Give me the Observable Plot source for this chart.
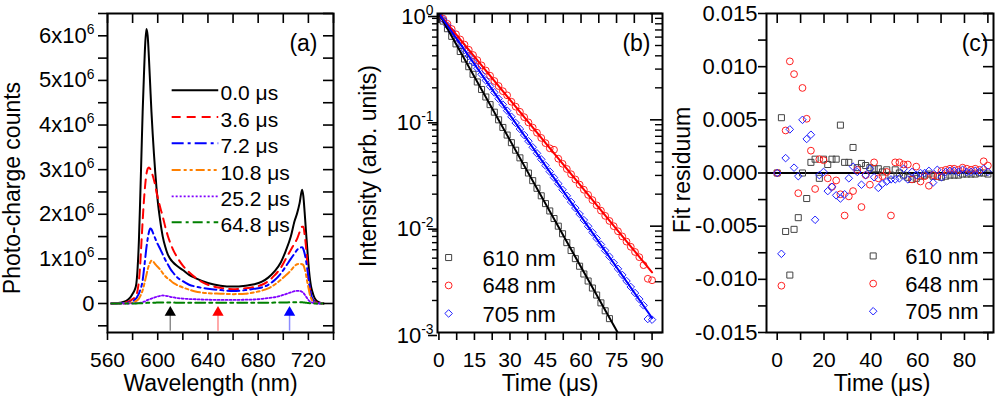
<!DOCTYPE html>
<html><head><meta charset="utf-8">
<script src="https://cdn.jsdelivr.net/npm/d3@7"></script>
<script src="https://cdn.jsdelivr.net/npm/@observablehq/plot@0.6"></script>
<style>
html,body{margin:0;padding:0;background:#fff;}
#wrap{position:relative;width:1000px;height:398px;overflow:hidden;}
#wrap svg{position:absolute;top:0;}
</style></head><body><div id="wrap"></div>
<script>
// ---------- Panel (a): spectra (counts in units of 10^6) ----------
const wavelength = [563,570,575,578,580,582,583,584,585,586,587,588,589,590,591,592,593,594,595,596,597,598,599,600,602,604,606,608,610,612,615,620,625,630,640,650,660,670,677,683,688,693,698,702,706,709,711,713,715,716,717,718,719,720,721,722,723,725,727,732];
const spec0_0 = [0,0.02,0.06,0.13,0.22, 0.33,0.45,0.8,1.4,2.3, 3.3,4.3,5.1,5.8,6.15, 6.0,5.5,4.9,4.3,3.8, 3.35,2.95,2.6,2.3,1.85, 1.5,1.27,1.1,1.0,0.93, 0.85,0.75,0.64,0.57,0.46, 0.40,0.38,0.40,0.43,0.49, 0.58,0.72,0.92,1.18,1.5, 1.85,2.02,2.25,2.55,2.4, 2.05,1.65,1.27,0.9,0.6, 0.4,0.28,0.12,0.05,0];
const spec3_6 = [0,0.01,0.03,0.06,0.1, 0.14,0.18,0.3,0.5,0.85, 1.35,1.85,2.3,2.65,2.9, 3.02,3.05,3.02,2.95,2.87, 2.77,2.65,2.5,2.38,2.15, 1.95,1.72,1.52,1.36,1.22, 1.06,0.85,0.7,0.58,0.42, 0.35,0.32,0.34,0.37,0.42, 0.5,0.63,0.8,1.0,1.2, 1.35,1.45,1.6,1.72,1.72, 1.55,1.3,0.95,0.55,0.35, 0.22,0.13,0.05,0.02,0];
const spec7_2 = [0,0.005,0.015,0.03,0.05, 0.09,0.12,0.17,0.22,0.3, 0.38,0.52,0.75,1.0,1.25, 1.45,1.6,1.68,1.66,1.6, 1.53,1.46,1.39,1.33,1.22, 1.1,0.98,0.88,0.78,0.7, 0.6,0.5,0.42,0.38,0.33, 0.3,0.28,0.3,0.33,0.36, 0.42,0.52,0.67,0.83,1.0, 1.12,1.2,1.25,1.26,1.22, 1.12,0.98,0.8,0.6,0.38, 0.22,0.12,0.04,0.01,0];
const spec10_8 = [0,0,0.005,0.015,0.025, 0.04,0.06,0.08,0.11,0.16, 0.22,0.3,0.4,0.52,0.64, 0.76,0.86,0.92,0.96,0.95, 0.92,0.88,0.85,0.82,0.76, 0.68,0.61,0.56,0.52,0.47, 0.42,0.36,0.31,0.27,0.23, 0.22,0.21,0.22,0.25,0.29, 0.34,0.42,0.53,0.63,0.74, 0.84,0.88,0.89,0.88,0.86, 0.78,0.66,0.5,0.36,0.22, 0.13,0.07,0.02,0,0];
const spec25_2 = [0,0,0,0,0.003, 0.005,0.007,0.01,0.012,0.016, 0.02,0.03,0.04,0.05,0.065, 0.08,0.09,0.1,0.11,0.12, 0.13,0.14,0.15,0.16,0.17, 0.18,0.175,0.165,0.15,0.14, 0.125,0.11,0.1,0.095,0.085, 0.08,0.08,0.085,0.09,0.105, 0.12,0.14,0.175,0.21,0.25, 0.275,0.285,0.28,0.26,0.24, 0.2,0.16,0.12,0.08,0.05, 0.03,0.02,0.01,0,0];
const spec64_8 = [0,0,0,0,0, 0,0.002,0.003,0.004,0.005, 0.006,0.008,0.01,0.012,0.014, 0.015,0.016,0.017,0.018,0.018, 0.019,0.019,0.02,0.02,0.02, 0.02,0.02,0.02,0.02,0.02, 0.019,0.018,0.017,0.016,0.015, 0.015,0.015,0.016,0.017,0.018, 0.019,0.02,0.022,0.024,0.026, 0.027,0.028,0.027,0.026,0.025, 0.022,0.018,0.014,0.01,0.007, 0.005,0.003,0.001,0,0];
const delayLabels = ["0.0 \u03bcs","3.6 \u03bcs","7.2 \u03bcs","10.8 \u03bcs","25.2 \u03bcs","64.8 \u03bcs"];
const specColors = ["#000000","#ff0000","#0000ff","#ff8000","#8000ff","#008000"];
const specDash = [null,"9,6","12,4,3,4","9,3,3,3,3,3","2,2","10,4,3,4"];
const legendRowsA = [4.78,4.18,3.59,2.99,2.40,1.82];
const arrowWl = [610,648,705];
const arrowColors = ["#000000","#ff0000","#0000ff"];
const aXTicks = [560,580,600,620,640,660,680,700,720,740];
const aXLabelTicks = [560,600,640,680,720];
const aYTicks = [-0.5,0,0.5,1,1.5,2,2.5,3,3.5,4,4.5,5,5.5,6,6.5];
const aYLabelTicks = [0,1,2,3,4,5,6];
const aYLabelText = ["0","1x10^6","2x10^6","3x10^6","4x10^6","5x10^6","6x10^6"];

// ---------- Panel (b): decays ----------
const times = [0,1.8,3.6,5.4,7.2,9,10.8,12.6,14.4,16.2,18,19.8,21.6,23.4,25.2,27,28.8,30.6,32.4,34.2,36,37.8,39.6,41.4,43.2,45,46.8,48.6,50.4,52.2,54,55.8,57.6,59.4,61.2,63,64.8,66.6,68.4,70.2,72,73.8,75.6,77.4,79.2,81,82.8,84.6,86.4,88.2,90];
const int610 = [1,0.848,0.719,0.610,0.518,0.439,0.373,0.316,0.268,0.227, 0.193,0.164,0.139,0.118,0.100,0.0848,0.0719,0.0610,0.0518,0.0439, 0.0372,0.0316,0.0268,0.0227,0.0193,0.0163,0.0139,0.0118,0.0100,0.00848, 0.00700,0.00590,0.00495,0.00420,0.00355,0.00305,0.00262,0.00225,0.00190,0.00160, 0.00135];
const int648 = [1,0.894,0.799,0.714,0.638,0.570,0.510,0.456,0.407,0.364, 0.325,0.291,0.260,0.232,0.208,0.186,0.170,0.148,0.133,0.119, 0.106,0.0946,0.0846,0.0756,0.0676,0.0604,0.0540,0.0523,0.0431,0.0386, 0.0345,0.0308,0.0275,0.0246,0.0220,0.0197,0.0176,0.0157,0.0140,0.0125, 0.0112,0.0100,0.00896,0.00801,0.00716,0.00640,0.00572,0.00511,0.00430,0.00320,0.00310];
const int705 = [1,0.877,0.768,0.674,0.590,0.518,0.454,0.398,0.349,0.306, 0.268,0.235,0.206,0.181,0.158,0.139,0.122,0.107,0.0935,0.0820, 0.0719,0.0630,0.0552,0.0484,0.0425,0.0372,0.0326,0.0286,0.0251,0.0220, 0.0193,0.0169,0.0148,0.0130,0.0114,0.00998,0.00875,0.00767,0.00672,0.00589, 0.00517,0.00453,0.00397,0.00348,0.00305,0.00268,0.00235,0.00206,0.00180,0.00134,0.00132];
const fitTimes = [0,90];
const fit610 = [1,0.000265];
const fit648 = [1,0.00368];
const fit705 = [1,0.00137];
const seriesLabels = ["610 nm","648 nm","705 nm"];
const seriesColors = ["#444444","#ff2020","#2020ff"];
const lineColors = ["#000000","#ff0000","#0000ff"];
const seriesSymbols = ["square","circle","diamond2"];
const bXTicks = [0,7.5,15,22.5,30,37.5,45,52.5,60,67.5,75,82.5,90];
const bXLabelTicks = [0,15,30,45,60,75,90];
const bYMajor = [0.001,0.01,0.1,1];
const bYMajorText = ["10^-3","10^-2","10^-1","10^0"];
const bYMinor = [0.002,0.003,0.004,0.005,0.006,0.007,0.008,0.009,0.02,0.03,0.04,0.05,0.06,0.07,0.08,0.09,0.2,0.3,0.4,0.5,0.6,0.7,0.8,0.9];
const legendRowsB = [0.00507,0.00277,0.00151];

// ---------- Panel (c): residuals ----------
const res610 = [0,0.0052,-0.0055,-0.0096,-0.0053,-0.0042,0.0000,-0.0024,0.0010,0.0013, -0.0005,0.0013,0.0008,0.0013,0.0013,0.0045,0.0010,0.0010,0.0024,0.0005, 0.0009,0.0007,0.0005,0.0004,0.0004,0.0001,0.0003,-0.0002,0.0003,0.0000, -0.0002,-0.0004,-0.0006,-0.0005,-0.0003,-0.0002,-0.0001,-0.0003,-0.0003,-0.0004, -0.0003,-0.0002,-0.0002,-0.0002,-0.0001,-0.0001,-0.0001,-0.0001,0.0000,0.0000,-0.0001];
const res648 = [0,-0.0106,0.0040,0.0105,0.0093,-0.0019,0.0080,0.0051,0.0021,-0.0015, 0.0013,0.0012,-0.0005,-0.0013,-0.0007,-0.0020,-0.0040,-0.0022,-0.0017,0.0003, -0.0032,-0.0002,-0.0011,0.0010,-0.0005,-0.0003,0.0001,-0.0040,0.0010,0.0010, 0.0008,0.0008,-0.0006,0.0006,-0.0008,-0.0003,-0.0012,-0.0002,-0.0003,0.0002, 0.0003,0.0004,0.0004,0.0003,0.0005,0.0004,0.0003,0.0004,0.0003,0.0011,0.0007];
const res705 = [0,-0.0076,0.0014,0.0041,0.0005,-0.0003,0.0050,0.0032,0.0036,-0.0044, -0.0002,0.0001,-0.0017,-0.0013,-0.0021,-0.0024,-0.0020,-0.0005,0.0006,0.0001, -0.0011,-0.0002,0.0004,-0.0004,-0.0014,-0.0010,-0.0008,-0.0006,-0.0006,-0.0005, 0.0004,-0.0006,0.0001,-0.0002,0.0000,0.0000,0.0002,-0.0009,0.0003,-0.0004, 0.0001,0.0002,0.0002,0.0001,0.0003,0.0001,0.0001,0.0002,0.0001,0.0004,0.0001];
const cXTicks = [0,10,20,30,40,50,60,70,80,90];
const cXLabelTicks = [0,20,40,60,80];
const cYTicks = [-0.015,-0.0125,-0.01,-0.0075,-0.005,-0.0025,0,0.0025,0.005,0.0075,0.01,0.0125,0.015];
const cYLabelTicks = [-0.015,-0.01,-0.005,0,0.005,0.01,0.015];
const legendRowsC = [-0.0078,-0.0104,-0.0130];

// ---------- helpers ----------
const FONT = "'Liberation Sans', Arial, sans-serif";
const H = 398, MT = 13, MB = 66, PH = H - MT - MB;
const XT = 21, YT = 22, TT = 23;
const has = (arr, d) => arr.some(v => Math.abs(v - d) < 1e-9);
function baseStyle() { return {fontFamily: FONT, fontSize: "20px", color: "black", background: "transparent"}; }
function supify(svg) {
  svg.querySelectorAll("text").forEach(t => {
    if (t.children.length === 0 && t.textContent.includes("^")) {
      const [b, s] = t.textContent.split("^");
      const fs = parseFloat(getComputedStyle(t).fontSize) || 20;
      t.textContent = b;
      const ts = document.createElementNS("http://www.w3.org/2000/svg", "tspan");
      ts.setAttribute("dy", String(-0.4 * fs));
      ts.setAttribute("font-size", String(0.63 * fs));
      ts.textContent = s;
      t.appendChild(ts);
    }
  });
}
function place(svg, left) { svg.style.left = left + "px"; document.getElementById("wrap").appendChild(svg); supify(svg); }
function yTitle(s, dx, dy) { return Plot.text([s], {frameAnchor: "left", rotate: -90, dx, dy, textAnchor: "middle", lineAnchor: "middle", fontSize: TT, text: d => d}); }
function xTitle(s, dx) { return Plot.text([s], {frameAnchor: "bottom", dx, dy: 51, textAnchor: "middle", lineAnchor: "middle", fontSize: TT, text: d => d}); }
function letter(s, dx) { return Plot.text([s], {frameAnchor: "top-right", dx, dy: 30, textAnchor: "end", lineAnchor: "middle", fontSize: TT, text: d => d}); }

// ---------- Panel (a) ----------
{
  const W = 335, ML = 107, MR = 2, PW = W - ML - MR;
  const series = [spec0_0, spec3_6, spec7_2, spec10_8, spec25_2, spec64_8];
  const marks = [];
  series.forEach((s, k) => {
    const rows = wavelength.map((w, i) => ({w, v: s[i]}));
    marks.push(Plot.line(rows, {x: "w", y: "v", stroke: specColors[k], strokeWidth: k === 4 ? 1.8 : 2, strokeDasharray: specDash[k], curve: "monotone-x"}));
  });
  arrowWl.forEach((w, k) => {
    marks.push(Plot.ruleX([w], {x: d => d, y1: -0.62, y2: -0.25, stroke: arrowColors[k], strokeOpacity: 0.45, strokeWidth: 1.5}));
    marks.push(Plot.dot([w], {x: d => d, y: -0.2, symbol: "triangle", r: 4.2, fill: arrowColors[k], stroke: "none"}));
  });
  delayLabels.forEach((lab, k) => {
    marks.push(Plot.ruleY([legendRowsA[k]], {y: d => d, x1: 611.5, x2: 648.6, stroke: specColors[k], strokeWidth: k === 4 ? 1.8 : 2, strokeDasharray: specDash[k]}));
    marks.push(Plot.text([lab], {x: 650, y: legendRowsA[k], text: d => d, textAnchor: "start", dy: 3, fontSize: 21}));
  });
  marks.push(
    Plot.axisX(aXTicks, {anchor: "bottom", tickSize: 8, tickPadding: 12, strokeWidth: 1.6, label: null, fontSize: XT, tickFormat: d => has(aXLabelTicks, d) ? String(d) : ""}),
    Plot.axisY(aYTicks, {anchor: "left", tickSize: 9, tickPadding: 4, strokeWidth: 1.6, label: null, fontSize: YT, tickFormat: d => { const i = aYLabelTicks.findIndex(v => Math.abs(v - d) < 1e-9); return i >= 0 ? aYLabelText[i] : ""; }}),
    Plot.tickX(aXTicks, {x: d => d, insetBottom: PH - 10, strokeWidth: 1.6}),
    Plot.tickY(aYTicks, {y: d => d, insetLeft: PW - 10, strokeWidth: 1.6}),
    Plot.frame({strokeWidth: 2}),
    letter("(a)", -16),
    yTitle("Photo-charge counts", -95, 15),
    xTitle("Wavelength (nm)", -10)
  );
  const svg = Plot.plot({width: W, height: H, marginLeft: ML, marginRight: MR, marginTop: MT, marginBottom: MB,
    style: baseStyle(), x: {domain: [560, 740]}, y: {domain: [-0.65, 6.5]}, marks});
  place(svg, 0);
}

// ---------- Panel (b) ----------
{
  const W = 330, ML = 102, MR = 3, PW = W - ML - MR;
  const ints = [int610, int648, int705];
  const fits = [fit610, fit648, fit705];
  const marks = [];
  ints.forEach((s, k) => {
    const rows = s.map((v, i) => ({t: times[i], v}));
    marks.push(Plot.dot(rows, {x: "t", y: "v", symbol: seriesSymbols[k], r: 3.4, stroke: seriesColors[k], strokeWidth: 1, fill: "none", clip: true}));
  });
  fits.forEach((s, k) => {
    const rows = s.map((v, i) => ({t: fitTimes[i], v}));
    marks.push(Plot.line(rows, {x: "t", y: "v", stroke: lineColors[k], strokeWidth: 2, clip: true}));
  });
  seriesLabels.forEach((lab, k) => {
    marks.push(Plot.dot([0], {x: 4.1, y: legendRowsB[k], symbol: seriesSymbols[k], r: 3.4, stroke: seriesColors[k], strokeWidth: 1, fill: "none"}));
    marks.push(Plot.text([lab], {x: 18.4, y: legendRowsB[k], text: d => d, textAnchor: "start", dy: 1, fontSize: 22}));
  });
  marks.push(
    Plot.axisX(bXTicks, {anchor: "bottom", tickSize: 8, tickPadding: 12, strokeWidth: 1.6, label: null, fontSize: XT, tickFormat: d => has(bXLabelTicks, d) ? String(d) : ""}),
    Plot.axisY(bYMinor, {anchor: "left", tickSize: 5, strokeWidth: 1.4, label: null, tickFormat: () => ""}),
    Plot.axisY(bYMajor, {anchor: "left", tickSize: 9, tickPadding: -5, strokeWidth: 1.6, label: null, fontSize: YT, dy: 3, tickFormat: d => { const i = bYMajor.findIndex(v => Math.abs(v - d) < 1e-12); return i >= 0 ? bYMajorText[i] : ""; }}),
    Plot.tickX(bXTicks, {x: d => d, insetBottom: PH - 10, strokeWidth: 1.6}),
    Plot.tickY(bYMajor, {y: d => d, insetLeft: PW - 12, strokeWidth: 1.6}),
    Plot.tickY(bYMinor, {y: d => d, insetLeft: PW - 7, strokeWidth: 1.4}),
    Plot.frame({strokeWidth: 2}),
    letter("(b)", -12),
    yTitle("Intensity (arb. units)", -69, -7),
    xTitle("Time (\u03bcs)", 0)
  );
  const svg = Plot.plot({width: W, height: H, marginLeft: ML, marginRight: MR, marginTop: MT, marginBottom: MB,
    style: baseStyle(), x: {domain: [-0.6, 94.4]}, y: {type: "log", domain: [0.001, 1]}, marks});
  place(svg, 335);
}

// ---------- Panel (c) ----------
{
  const W = 335, ML = 101, MR = 7, PW = W - ML - MR;
  const res = [res610, res648, res705];
  const marks = [Plot.ruleY([0], {y: d => d, strokeWidth: 2})];
  res.forEach((s, k) => {
    const rows = s.map((v, i) => ({t: times[i], v}));
    marks.push(Plot.dot(rows, {x: "t", y: "v", symbol: seriesSymbols[k], r: 3.4, stroke: seriesColors[k], strokeWidth: 1, fill: "none"}));
  });
  seriesLabels.forEach((lab, k) => {
    marks.push(Plot.dot([0], {x: 41.0, y: legendRowsC[k], symbol: seriesSymbols[k], r: 3.4, stroke: seriesColors[k], strokeWidth: 1, fill: "none"}));
    marks.push(Plot.text([lab], {x: 54.7, y: legendRowsC[k], text: d => d, textAnchor: "start", dy: 1, fontSize: 22}));
  });
  marks.push(
    Plot.axisX(cXTicks, {anchor: "bottom", tickSize: 8, tickPadding: 12, strokeWidth: 1.6, label: null, fontSize: XT, tickFormat: d => has(cXLabelTicks, d) ? String(d) : ""}),
    Plot.axisY(cYTicks, {anchor: "left", tickSize: 8, tickPadding: 1, strokeWidth: 1.6, label: null, fontSize: YT, tickFormat: d => has(cYLabelTicks, d) ? d.toFixed(3) : ""}),
    Plot.tickX(cXTicks, {x: d => d, insetBottom: PH - 10, strokeWidth: 1.6}),
    Plot.tickY(cYTicks, {y: d => d, insetLeft: PW - 10, strokeWidth: 1.6}),
    Plot.frame({strokeWidth: 2}),
    letter("(c)", -5),
    yTitle("Fit residuum", -84, -3),
    xTitle("Time (\u03bcs)", 2)
  );
  const svg = Plot.plot({width: W, height: H, marginLeft: ML, marginRight: MR, marginTop: MT, marginBottom: MB,
    style: baseStyle(), x: {domain: [-4.57, 92.4]}, y: {domain: [-0.015, 0.015]}, marks});
  place(svg, 665);
}
</script></body></html>
